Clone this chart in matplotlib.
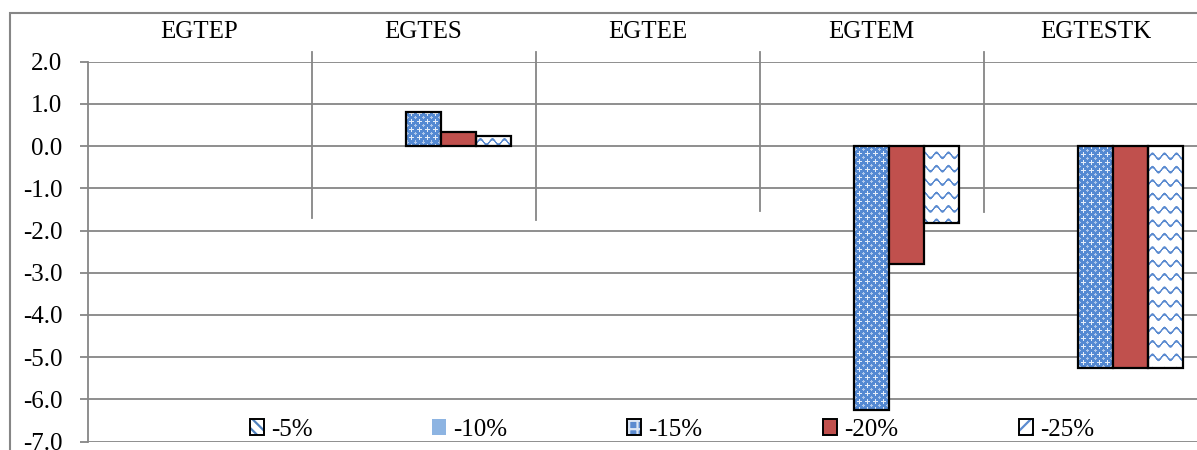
import numpy as np
import matplotlib
matplotlib.use("Agg")
import matplotlib.pyplot as plt
from matplotlib.patches import Patch, Rectangle
from matplotlib.legend import Legend
from matplotlib.transforms import blended_transform_factory

plt.rcParams['font.family'] = ['Liberation Serif', 'DejaVu Serif']
plt.rcParams['axes.unicode_minus'] = False
plt.rcParams['hatch.linewidth'] = 1.6

# data
categories = ['EGTEP', 'EGTES', 'EGTEE', 'EGTEM', 'EGTESTK']
series = ['-5%', '-10%', '-15%', '-20%', '-25%']
values = {
    '-5%':  [0.0, 0.0, 0.0, 0.0, 0.0],
    '-10%': [0.0, 0.0, 0.0, 0.0, 0.0],
    '-15%': [0.0, 0.82, 0.0, -6.26, -5.25],
    '-20%': [0.0, 0.34, 0.0, -2.80, -5.25],
    '-25%': [0.0, 0.245, 0.0, -1.83, -5.25],
}
yticks = [2.0, 1.0, 0.0, -1.0, -2.0, -3.0, -4.0, -5.0, -6.0, -7.0]

BLUE = '#4F81BD'
RED = '#C0504D'
LIGHT = '#8DB4E2'
GRID = '#868686'
FS = 18

W, H, DPI = 1197, 450, 100
fig = plt.figure(figsize=(W / DPI, H / DPI), dpi=DPI)

# plot area in pixels (runs a bit past the right edge)
x0, x1 = 87.5, 1207.5
ytop, ybot = 61.7, 441.6
ax = fig.add_axes([x0 / W, 1 - ybot / H, (x1 - x0) / W, (ybot - ytop) / H])
axw, axh = int(round(x1 - x0)), int(round(ybot - ytop))


def wave_texture(w, h):
    yy, xx = np.mgrid[0:h, 0:w].astype(float)
    d = (yy - 2.6 * np.sin(2 * np.pi * xx / 12.0)) % 13.4
    d = np.minimum(d, 13.4 - d)
    a = np.clip(1.9 - d / 0.9, 0, 1)[..., None]
    blue = np.array(matplotlib.colors.to_rgb('#5B8BD0'))
    return (1 - a) * np.ones(3) + a * blue


def cross_texture(w, h):
    yy, xx = np.mgrid[0:h, 0:w]
    mx, my = xx % 8, yy % 8
    plus = ((mx == 4) & (np.abs(my - 4) <= 2)) | ((my == 4) & (np.abs(mx - 4) <= 2))
    mx2, my2 = (xx + 4) % 8, (yy + 4) % 8
    dot = ((mx2 == 4) & (np.abs(my2 - 4) <= 1)) | ((my2 == 4) & (np.abs(mx2 - 4) <= 1))
    base = np.array(matplotlib.colors.to_rgb('#5489D2'))
    img = np.tile(base, (h, w, 1))
    img[plus] = 0.15 * base + 0.85
    img[dot] = 0.45 * base + 0.55
    return img


textures = {'-15%': cross_texture(axw, axh), '-25%': wave_texture(axw, axh)}
faces = {'-5%': BLUE, '-10%': LIGHT, '-15%': 'none', '-20%': RED, '-25%': 'none'}

n = len(series)
bw = 35 / 224
xs = np.arange(len(categories))
for i, s in enumerate(series):
    vals = values[s]
    lw = [1.6 if v != 0 else 0 for v in vals]
    bars = ax.bar(xs + (i - (n - 1) / 2) * bw, vals, bw, color=faces[s],
                  edgecolor='black', linewidth=lw, zorder=3)
    if s in textures:
        for b, v in zip(bars, vals):
            if v == 0:
                continue
            im = ax.imshow(textures[s], extent=(-0.5, 4.5, -7, 2), aspect='auto',
                           interpolation='nearest', origin='upper', zorder=2)
            im.set_clip_path(b)

ax.set_xlim(-0.5, 4.5)
ax.set_ylim(-7, 2)

# gridlines and axes
ax.set_yticks(yticks)
ax.set_yticklabels([f'{t:.1f}' for t in yticks], fontsize=FS)
ax.yaxis.grid(True, color=GRID, linewidth=1.3, zorder=0)
ax.set_axisbelow(True)
ax.tick_params(axis='y', length=6, width=1.3, color=GRID, pad=12)
ax.set_xticks([])
for side in ['top', 'right', 'bottom']:
    ax.spines[side].set_visible(False)
ax.spines['left'].set_color(GRID)
ax.spines['left'].set_linewidth(1.3)

# category separators
sep_x = [0.5, 1.5, 2.5, 3.5]
sep_low = [-1.71, -1.75, -1.54, -1.56]
for sx, lo in zip(sep_x, sep_low):
    ax.plot([sx, sx], [2.23, lo], color=GRID, lw=1.3, clip_on=False, zorder=1)

# category names along the top
tr = blended_transform_factory(ax.transData, ax.transAxes)
for i, c in enumerate(categories):
    ax.text(i, 1.078, c, transform=tr, ha='center', va='center', fontsize=FS)

# legend entries, spread along the bottom
handles = {
    '-5%': (Patch(facecolor='white', edgecolor=BLUE, hatch='\\\\\\', lw=0),
            Patch(facecolor='none', edgecolor='black', lw=1.4)),
    '-10%': Patch(facecolor=LIGHT, edgecolor='none'),
    '-15%': (Patch(facecolor='#5B8BD0', edgecolor='#DCE6F4', hatch='++', lw=0),
             Patch(facecolor='none', edgecolor='black', lw=1.4)),
    '-20%': Patch(facecolor=RED, edgecolor='black', lw=1.4),
    '-25%': (Patch(facecolor='white', edgecolor='#5B8BD0', hatch='//', lw=0),
             Patch(facecolor='none', edgecolor='black', lw=1.4)),
}
leg_x = [250, 432, 627, 823, 1019]
for s, lx in zip(series, leg_x):
    leg = Legend(ax, [handles[s]], [s], loc='center left',
                 bbox_to_anchor=(lx / W, 1 - 430 / H), bbox_transform=fig.transFigure,
                 frameon=False, fontsize=FS, borderpad=0, borderaxespad=0,
                 handlelength=0.55, handleheight=0.6, handletextpad=0.3)
    ax.add_artist(leg)

# chart border
fig.add_artist(Rectangle((10 / W, -0.1), 1.2, (H - 12.5) / H + 0.1, transform=fig.transFigure,
                         fill=False, edgecolor=GRID, linewidth=1.5))

fig.savefig('out.png', dpi=DPI)
